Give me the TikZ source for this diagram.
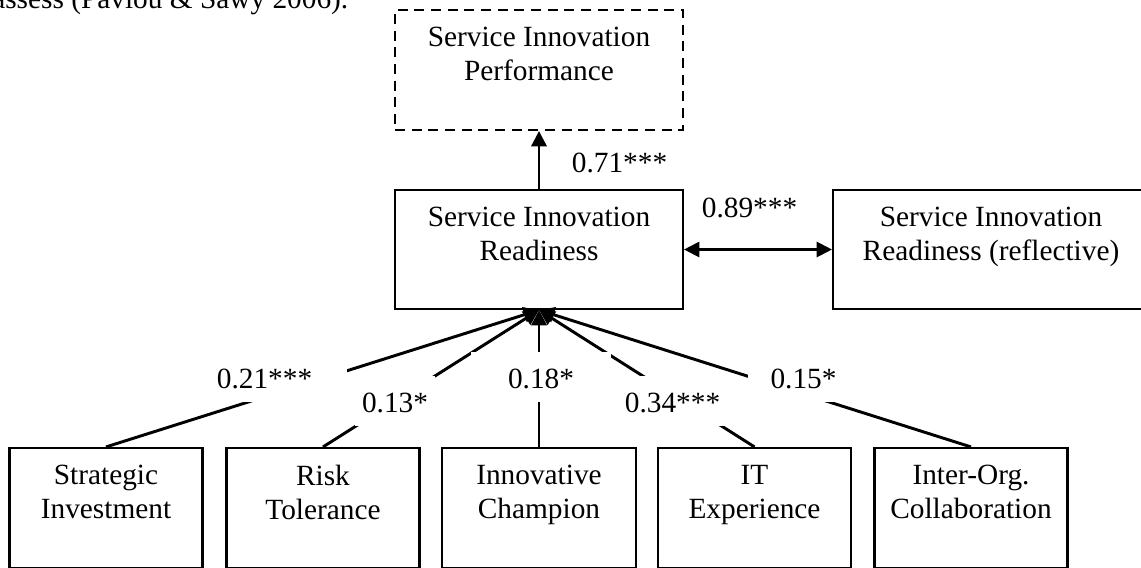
\documentclass[tikz,border=0pt]{standalone}
\usepackage{fontspec}
\setmainfont{Liberation Serif}
\usetikzlibrary{arrows.meta}
\begin{document}
\begin{tikzpicture}[x=0.75pt,y=-0.75pt,
  font=\fontsize{22pt}{25.5pt}\selectfont,
  box/.style={draw, line width=1.6pt, minimum width=#1, minimum height=90pt, inner sep=0pt},
  boxtext/.style={anchor=north, align=center, inner sep=0pt},
  conn/.style={line width=2.2pt, -{Triangle[length=11.5pt,width=11.5pt]}},
  twoway/.style={line width=1.6pt, {Triangle[length=11.5pt,width=11.5pt]}-{Triangle[length=11.5pt,width=11.5pt]}},
  coef/.style={anchor=base, inner sep=0pt},
  coefbox/.style={anchor=base, inner xsep=0pt, inner ysep=0pt, text height=27pt,
    text depth=10.5pt, fill=white, minimum width=#1}]
\useasboundingbox (0,0) rectangle (1141,567);
\clip (0,0) rectangle (1141,567);

% running text above the figure
\node[anchor=base west, inner sep=0pt] (cite) at (-8,9) {assess (Pavlou \& Sawy 2006).};

% constructs
\node[box=216pt, dash pattern=on 7.5pt off 5pt] (sip) at (539,70) {};
\node[boxtext] (sipt) at ([yshift=-13.5pt]sip.north) {Service Innovation\\Performance};

\node[box=216pt, minimum height=89.25pt] (sir) at (539,249.5) {};
\node[boxtext] (sirt) at ([yshift=-13.5pt]sir.north) {Service Innovation\\Readiness};

\node[box=237pt, minimum height=89.25pt] (sirr) at (991,249.5) {};
\node[boxtext] (sirrt) at ([yshift=-13.5pt]sirr.north) {Service Innovation\\Readiness (reflective)};

% formative indicators
\node[box=144.75pt] (si) at (106,508) {};
\node[boxtext] (sit) at ([yshift=-13.5pt]si.north) {Strategic\\Investment};
\node[box=144.75pt] (rt) at (323,508) {};
\node[boxtext] (rtt) at ([yshift=-13.5pt]rt.north) {Risk\\Tolerance};
\node[box=145.5pt] (ic) at (539,508) {};
\node[boxtext] (ict) at ([yshift=-13.5pt]ic.north) {Innovative\\Champion};
\node[box=144.75pt] (ite) at (754.5,508) {};
\node[boxtext] (itet) at ([yshift=-13.5pt]ite.north) {IT\\Experience};
\node[box=144.75pt] (ioc) at (971,508) {};
\node[boxtext] (ioct) at ([yshift=-13.5pt]ioc.north) {Inter-Org.\\Collaboration};

% paths
\draw[conn] (si.north) -- (sir.south);
\draw[conn] (rt.north) -- (sir.south);
\draw[conn] (ic.north) -- (sir.south);
\draw[conn] (ite.north) -- (sir.south);
\draw[conn] (ioc.north) -- (sir.south);
\draw[conn, line width=1.9pt] (sir.north) -- (sip.south);
\draw[twoway] (sir.east) -- (sirr.west);

% path coefficients
\node[coef] (c71) at (619.5,172) {0.71***};
\node[coef] (c89) at (749.5,217) {0.89***};
\node[coefbox=123.75pt] (c21) at (264.5,388) {0.21***};
\node[coefbox=60pt] (c13) at (395,412) {0.13*};
\node[coefbox=105pt] (c18) at (541,388) {0.18*};
\node[coefbox=90pt] (c34) at (672.5,412) {0.34***};
\node[coefbox=83.25pt] (c15) at (803.5,388) {0.15*};
\end{tikzpicture}
\end{document}
